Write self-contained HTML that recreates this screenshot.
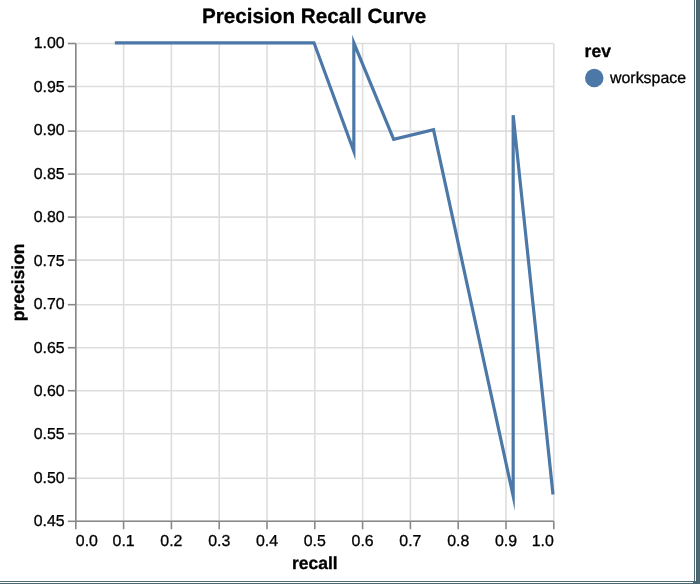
<!DOCTYPE html>
<html><head><meta charset="utf-8"><title>Precision Recall Curve</title>
<style>
html,body{margin:0;padding:0;background:#fff;}
body{width:700px;height:584px;overflow:hidden;position:relative;font-family:"Liberation Sans",sans-serif;}
svg{position:absolute;left:0;top:0;display:block;will-change:transform;}
text{font-family:"Liberation Sans",sans-serif;fill:#000;stroke:#000;stroke-width:0.3px;stroke-linejoin:round;}
</style></head><body>
<svg width="700" height="584" viewBox="0 0 700 584">
<rect x="0" y="0" width="700" height="584" fill="#4c6971"/>
<!-- outer frame -->
<rect x="694" y="0" width="1" height="582" fill="#506c76"/>
<rect x="0" y="581" width="695" height="1" fill="#506c76"/>
<rect x="696" y="0" width="1" height="584" fill="#45626c"/>
<rect x="0" y="0" width="694" height="581" fill="#ffffff"/>
<rect x="695" y="0" width="1" height="581" fill="#ffffff"/>
<rect x="0" y="582" width="693" height="1" fill="#ffffff"/>
<g stroke="#ddd" stroke-width="1.59" fill="none">
<line x1="75.80" y1="43.50" x2="75.80" y2="521.30"/>
<line x1="123.60" y1="43.50" x2="123.60" y2="521.30"/>
<line x1="171.40" y1="43.50" x2="171.40" y2="521.30"/>
<line x1="219.20" y1="43.50" x2="219.20" y2="521.30"/>
<line x1="267.00" y1="43.50" x2="267.00" y2="521.30"/>
<line x1="314.80" y1="43.50" x2="314.80" y2="521.30"/>
<line x1="362.60" y1="43.50" x2="362.60" y2="521.30"/>
<line x1="410.40" y1="43.50" x2="410.40" y2="521.30"/>
<line x1="458.20" y1="43.50" x2="458.20" y2="521.30"/>
<line x1="506.00" y1="43.50" x2="506.00" y2="521.30"/>
<line x1="553.80" y1="43.50" x2="553.80" y2="521.30"/>
<line x1="75.80" y1="521.30" x2="553.80" y2="521.30"/>
<line x1="75.80" y1="478.30" x2="553.80" y2="478.30"/>
<line x1="75.80" y1="433.70" x2="553.80" y2="433.70"/>
<line x1="75.80" y1="390.70" x2="553.80" y2="390.70"/>
<line x1="75.80" y1="347.70" x2="553.80" y2="347.70"/>
<line x1="75.80" y1="304.70" x2="553.80" y2="304.70"/>
<line x1="75.80" y1="260.10" x2="553.80" y2="260.10"/>
<line x1="75.80" y1="217.10" x2="553.80" y2="217.10"/>
<line x1="75.80" y1="174.10" x2="553.80" y2="174.10"/>
<line x1="75.80" y1="131.10" x2="553.80" y2="131.10"/>
<line x1="75.80" y1="86.50" x2="553.80" y2="86.50"/>
<line x1="75.80" y1="43.50" x2="553.80" y2="43.50"/>
</g>
<g stroke="#888" stroke-width="1.59" fill="none">
<line x1="75.80" y1="521.30" x2="75.80" y2="529.26"/>
<line x1="123.60" y1="521.30" x2="123.60" y2="529.26"/>
<line x1="171.40" y1="521.30" x2="171.40" y2="529.26"/>
<line x1="219.20" y1="521.30" x2="219.20" y2="529.26"/>
<line x1="267.00" y1="521.30" x2="267.00" y2="529.26"/>
<line x1="314.80" y1="521.30" x2="314.80" y2="529.26"/>
<line x1="362.60" y1="521.30" x2="362.60" y2="529.26"/>
<line x1="410.40" y1="521.30" x2="410.40" y2="529.26"/>
<line x1="458.20" y1="521.30" x2="458.20" y2="529.26"/>
<line x1="506.00" y1="521.30" x2="506.00" y2="529.26"/>
<line x1="553.80" y1="521.30" x2="553.80" y2="529.26"/>
<line x1="67.83" y1="521.30" x2="75.80" y2="521.30"/>
<line x1="67.83" y1="478.30" x2="75.80" y2="478.30"/>
<line x1="67.83" y1="433.70" x2="75.80" y2="433.70"/>
<line x1="67.83" y1="390.70" x2="75.80" y2="390.70"/>
<line x1="67.83" y1="347.70" x2="75.80" y2="347.70"/>
<line x1="67.83" y1="304.70" x2="75.80" y2="304.70"/>
<line x1="67.83" y1="260.10" x2="75.80" y2="260.10"/>
<line x1="67.83" y1="217.10" x2="75.80" y2="217.10"/>
<line x1="67.83" y1="174.10" x2="75.80" y2="174.10"/>
<line x1="67.83" y1="131.10" x2="75.80" y2="131.10"/>
<line x1="67.83" y1="86.50" x2="75.80" y2="86.50"/>
<line x1="67.83" y1="43.50" x2="75.80" y2="43.50"/>
<line x1="75.80" y1="43.50" x2="75.80" y2="521.30"/>
<line x1="75.80" y1="521.30" x2="553.80" y2="521.30"/>
</g>
<path transform="translate(-0.8,-0.7)" d="M115.63,43.50 L314.80,43.50 L354.63,152.09 L354.63,43.50 L394.47,140.03 L434.30,130.37 L513.97,496.75 L513.97,115.89 L553.80,495.24" fill="none" stroke="#4c78a8" stroke-width="3.19" stroke-miterlimit="10" stroke-linejoin="miter" stroke-linecap="butt"/>
<g font-size="15.93px">
<text transform="translate(75.80,545.60) matrix(1 0 0.002 1 0 0)">0.0</text>
<text transform="translate(123.60,545.60) matrix(1 0 0.002 1 0 0)" text-anchor="middle">0.1</text>
<text transform="translate(171.40,545.60) matrix(1 0 0.002 1 0 0)" text-anchor="middle">0.2</text>
<text transform="translate(219.20,545.60) matrix(1 0 0.002 1 0 0)" text-anchor="middle">0.3</text>
<text transform="translate(267.00,545.60) matrix(1 0 0.002 1 0 0)" text-anchor="middle">0.4</text>
<text transform="translate(314.80,545.60) matrix(1 0 0.002 1 0 0)" text-anchor="middle">0.5</text>
<text transform="translate(362.60,545.60) matrix(1 0 0.002 1 0 0)" text-anchor="middle">0.6</text>
<text transform="translate(410.40,545.60) matrix(1 0 0.002 1 0 0)" text-anchor="middle">0.7</text>
<text transform="translate(458.20,545.60) matrix(1 0 0.002 1 0 0)" text-anchor="middle">0.8</text>
<text transform="translate(506.00,545.60) matrix(1 0 0.002 1 0 0)" text-anchor="middle">0.9</text>
<text transform="translate(553.80,545.60) matrix(1 0 0.002 1 0 0)" text-anchor="end">1.0</text>
<text transform="translate(64.65,526.25) matrix(1 0 0.002 1 0 0)" text-anchor="end">0.45</text>
<text transform="translate(64.65,482.81) matrix(1 0 0.002 1 0 0)" text-anchor="end">0.50</text>
<text transform="translate(64.65,439.38) matrix(1 0 0.002 1 0 0)" text-anchor="end">0.55</text>
<text transform="translate(64.65,395.94) matrix(1 0 0.002 1 0 0)" text-anchor="end">0.60</text>
<text transform="translate(64.65,352.50) matrix(1 0 0.002 1 0 0)" text-anchor="end">0.65</text>
<text transform="translate(64.65,309.07) matrix(1 0 0.002 1 0 0)" text-anchor="end">0.70</text>
<text transform="translate(64.65,265.63) matrix(1 0 0.002 1 0 0)" text-anchor="end">0.75</text>
<text transform="translate(64.65,222.20) matrix(1 0 0.002 1 0 0)" text-anchor="end">0.80</text>
<text transform="translate(64.65,178.76) matrix(1 0 0.002 1 0 0)" text-anchor="end">0.85</text>
<text transform="translate(64.65,135.32) matrix(1 0 0.002 1 0 0)" text-anchor="end">0.90</text>
<text transform="translate(64.65,91.89) matrix(1 0 0.002 1 0 0)" text-anchor="end">0.95</text>
<text transform="translate(64.65,48.45) matrix(1 0 0.002 1 0 0)" text-anchor="end">1.00</text>
</g>
<text transform="translate(314.10,22.80) matrix(1 0 0.002 1 0 0)" text-anchor="middle" font-size="20.71px" font-weight="bold">Precision Recall Curve</text>
<text transform="translate(314.80,569.00) matrix(1 0 0.002 1 0 0)" text-anchor="middle" font-size="17.52px" font-weight="bold">recall</text>
<text transform="translate(24.10,282.40) rotate(-90) matrix(1 0 0.002 1 0 0)" text-anchor="middle" font-size="17.52px" font-weight="bold">precision</text>
<text transform="translate(584.60,56.70) matrix(1 0 0.002 1 0 0)" font-size="17.52px" font-weight="bold">rev</text>
<circle cx="594.25" cy="78.0" r="9.25" fill="#4c78a8"/>
<text transform="translate(610.00,82.55) matrix(1 0 0.002 1 0 0)" font-size="15.93px">workspace</text>
</svg>
</body></html>
